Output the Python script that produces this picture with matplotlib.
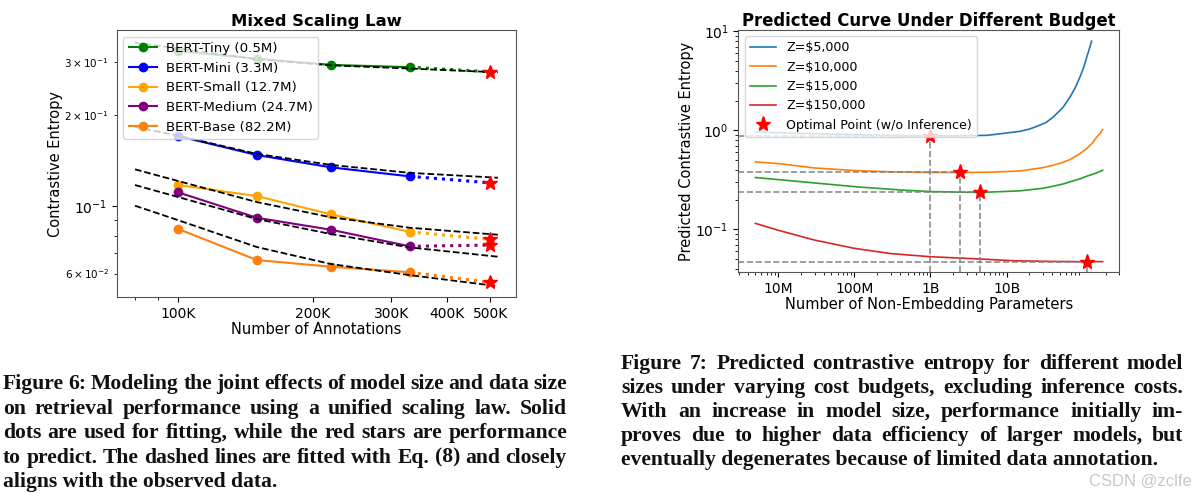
import matplotlib
matplotlib.use("Agg")
import matplotlib.pyplot as plt
from matplotlib.ticker import NullFormatter

# ---- left panel: mixed scaling law ----
annotations = [100e3, 150e3, 220e3, 330e3]
pred_x = 500e3
fit_x = [80e3, 100e3, 150e3, 220e3, 330e3, 520e3]

models = ["BERT-Tiny (0.5M)", "BERT-Mini (3.3M)", "BERT-Small (12.7M)",
          "BERT-Medium (24.7M)", "BERT-Base (82.2M)"]
colors = ["green", "blue", "orange", "purple", "#ff7f0e"]
observed = [
    [0.325, 0.307, 0.293, 0.288],
    [0.1706, 0.1477, 0.1345, 0.1256],
    [0.1176, 0.1081, 0.0941, 0.0824],
    [0.1112, 0.0917, 0.0837, 0.0738],
    [0.0842, 0.0665, 0.0632, 0.0606],
]
predicted = [0.278, 0.1196, 0.0778, 0.0745, 0.0561]
fitted = [
    [0.347, 0.332, 0.306, 0.292, 0.285, 0.277],
    [0.1827, 0.171, 0.149, 0.137, 0.129, 0.1243],
    [0.1325, 0.1212, 0.1033, 0.0920, 0.0850, 0.0806],
    [0.1176, 0.1073, 0.0908, 0.0810, 0.0732, 0.0682],
    [0.1005, 0.0900, 0.0734, 0.0645, 0.0593, 0.0545],
]
ann_ticks = [100e3, 200e3, 300e3, 400e3, 500e3]
ann_labels = ["100K", "200K", "300K", "400K", "500K"]

# ---- right panel: predicted curves under budget ----
budgets = ["Z=\\$5,000", "Z=\\$10,000", "Z=\\$15,000", "Z=\\$150,000"]
blue_n = [5e6, 1e7, 3e7, 1e8, 3e8, 1e9, 2e9, 5.5e9, 8e9, 1.5e10, 2e10, 2.5e10,
          3.3e10, 4.1e10, 5.5e10, 6.8e10, 8e10, 9.2e10, 1.03e11, 1.13e11,
          1.22e11, 1.31e11]
blue_y = [0.96, 0.945, 0.925, 0.905, 0.89, 0.88, 0.88, 0.89, 0.92, 0.977, 1.03,
          1.097, 1.2, 1.36, 1.7, 2.16, 2.7, 3.44, 4.3, 5.47, 6.6, 7.94]
orange_n = [5e6, 1e7, 3e7, 1e8, 3e8, 1e9, 2.45e9, 6e9, 1.5e10, 3e10, 4.1e10,
            5.5e10, 6.8e10, 9e10, 1.13e11, 1.35e11, 1.53e11, 1.7e11, 1.83e11]
orange_y = [0.48, 0.462, 0.417, 0.393, 0.381, 0.376, 0.375, 0.378, 0.389,
            0.42, 0.444, 0.475, 0.507, 0.575, 0.654, 0.75, 0.856, 0.93, 1.016]
green_n = [5e6, 1e7, 2.1e7, 1.07e8, 4.4e8, 1e9, 4.47e9, 1.5e10, 3e10, 4.1e10,
           5.5e10, 6.8e10, 9e10, 1.13e11, 1.5e11, 1.83e11]
green_y = [0.334, 0.318, 0.302, 0.269, 0.249, 0.241, 0.236, 0.245, 0.26,
           0.273, 0.287, 0.302, 0.322, 0.344, 0.37, 0.395]
red_n = [5e6, 1e7, 3e7, 1e8, 3e8, 1e9, 4.4e9, 1.3e10, 4e10, 1.13e11, 1.83e11]
red_y = [0.115, 0.098, 0.078, 0.0644, 0.057, 0.053, 0.0503, 0.0482, 0.0475,
         0.0472, 0.0473]
opt_n = [1e9, 2.45e9, 4.47e9, 1.13e11]
opt_y = [0.885, 0.378, 0.238, 0.0472]
param_ticks = [1e7, 1e8, 1e9, 1e10]
param_labels = ["10M", "100M", "1B", "10B"]

caption6 = [
    "Figure 6: Modeling the joint effects of model size and data size",
    "on retrieval performance using a unified scaling law. Solid",
    "dots are used for fitting, while the red stars are performance",
    "to predict. The dashed lines are fitted with Eq. (8) and closely",
    "aligns with the observed data.",
]
caption7 = [
    "Figure 7: Predicted contrastive entropy for different model",
    "sizes under varying cost budgets, excluding inference costs.",
    "With an increase in model size, performance initially im-",
    "proves due to higher data efficiency of larger models, but",
    "eventually degenerates because of limited data annotation.",
]

W, H = 1194, 500
fig = plt.figure(figsize=(W / 100, H / 100), dpi=100)
spine_c = "#555555"

# left axes
ax1 = fig.add_axes([116.7 / W, 1 - 297.3 / H, (516 - 116.7) / W, (297.3 - 30) / H])
for name, c, obs, star, fit in zip(models, colors, observed, predicted, fitted):
    ax1.plot(annotations, obs, "-o", color=c, lw=1.5, ms=6, label=name)
    ax1.plot([annotations[-1], pred_x], [obs[-1], star], ":", color=c, lw=2.2)
for fit in fitted:
    ax1.plot(fit_x, fit, "--", color="black", lw=1.3)
for star in predicted:
    ax1.plot([pred_x], [star], "*", color="red", ms=10)
ax1.set_xscale("log")
ax1.set_yscale("log")
ax1.set_xlim(72.8e3, 571e3)
ax1.set_ylim(0.0501, 0.382)
ax1.set_xticks(ann_ticks, ann_labels)
ax1.xaxis.set_minor_formatter(NullFormatter())
ax1.tick_params(axis="both", which="major", labelsize=10, colors="black")
ax1.tick_params(axis="y", which="minor", labelsize=7.5)
ax1.set_xlabel("Number of Annotations", fontsize=10.5, labelpad=1)
ax1.set_ylabel("Contrastive Entropy", fontsize=10.5, labelpad=1)
ax1.set_title("Mixed Scaling Law", fontsize=11.8, fontweight="bold", pad=3)
ax1.legend(loc="upper left", fontsize=9.6, handlelength=2.1,
           handletextpad=0.7, borderaxespad=0.5)
for s in ax1.spines.values():
    s.set_color(spine_c)

# right axes
ax2 = fig.add_axes([738.3 / W, 1 - 272.3 / H, (1119.3 - 738.3) / W, (272.3 - 30) / H])
xmin, ymin = 2.98e6, 0.0369
for xs, ys, lab, c in zip([blue_n, orange_n, green_n, red_n],
                          [blue_y, orange_y, green_y, red_y],
                          budgets, ["tab:blue", "tab:orange", "tab:green", "tab:red"]):
    ax2.plot(xs, ys, "-", color=c, lw=1.2, label=lab)
for n, y in zip(opt_n, opt_y):
    ax2.plot([xmin, n], [y, y], "--", color="gray", lw=1.2, alpha=0.9)
    ax2.plot([n, n], [ymin, y], "--", color="gray", lw=1.2, alpha=0.9)
ax2.plot(opt_n, opt_y, "*", color="red", ms=11, ls="none",
         label="Optimal Point (w/o Inference)")
ax2.set_xscale("log")
ax2.set_yscale("log")
ax2.set_xlim(xmin, 3.03e11)
ax2.set_ylim(ymin, 10.3)
ax2.set_xticks(param_ticks, param_labels)
ax2.xaxis.set_minor_formatter(NullFormatter())
ax2.tick_params(axis="both", which="major", labelsize=10)
ax2.set_xlabel("Number of Non-Embedding Parameters", fontsize=10.5, labelpad=1)
ax2.set_ylabel("Predicted Contrastive Entropy", fontsize=10.5, labelpad=1)
ax2.set_title("Predicted Curve Under Different Budget", fontsize=11.9,
              fontweight="bold", pad=3)
ax2.legend(loc="upper left", fontsize=9.1, handlelength=2.1,
           borderaxespad=0.5)
for s in ax2.spines.values():
    s.set_color(spine_c)

# captions, justified like the paper
renderer = fig.canvas.get_renderer()
cap_kw = dict(family="Liberation Serif", fontweight="bold", fontsize=15.6,
              va="center", ha="left", color="#111111")


def justify(lines, x0, x1, y0, dy):
    for i, line in enumerate(lines):
        y = 1 - (y0 + i * dy) / H
        if i == len(lines) - 1:
            fig.text(x0 / W, y, line, **cap_kw)
            continue
        words = line.split(" ")
        texts = [fig.text(0, y, w, **cap_kw) for w in words]
        widths = [t.get_window_extent(renderer).width for t in texts]
        gap = (x1 - x0 - sum(widths)) / (len(words) - 1)
        x = x0
        for t, w in zip(texts, widths):
            t.set_x(x / W)
            x += w + gap


justify(caption6, 3, 567, 384, 24.6)
justify(caption7, 621, 1183, 364, 24.0)

fig.text(1192 / W, 1 - 481 / H, "CSDN @zclfe", family="Liberation Sans",
         fontsize=12, color="#c8c8c8", ha="right", va="center")

fig.savefig("out.png", dpi=100)
